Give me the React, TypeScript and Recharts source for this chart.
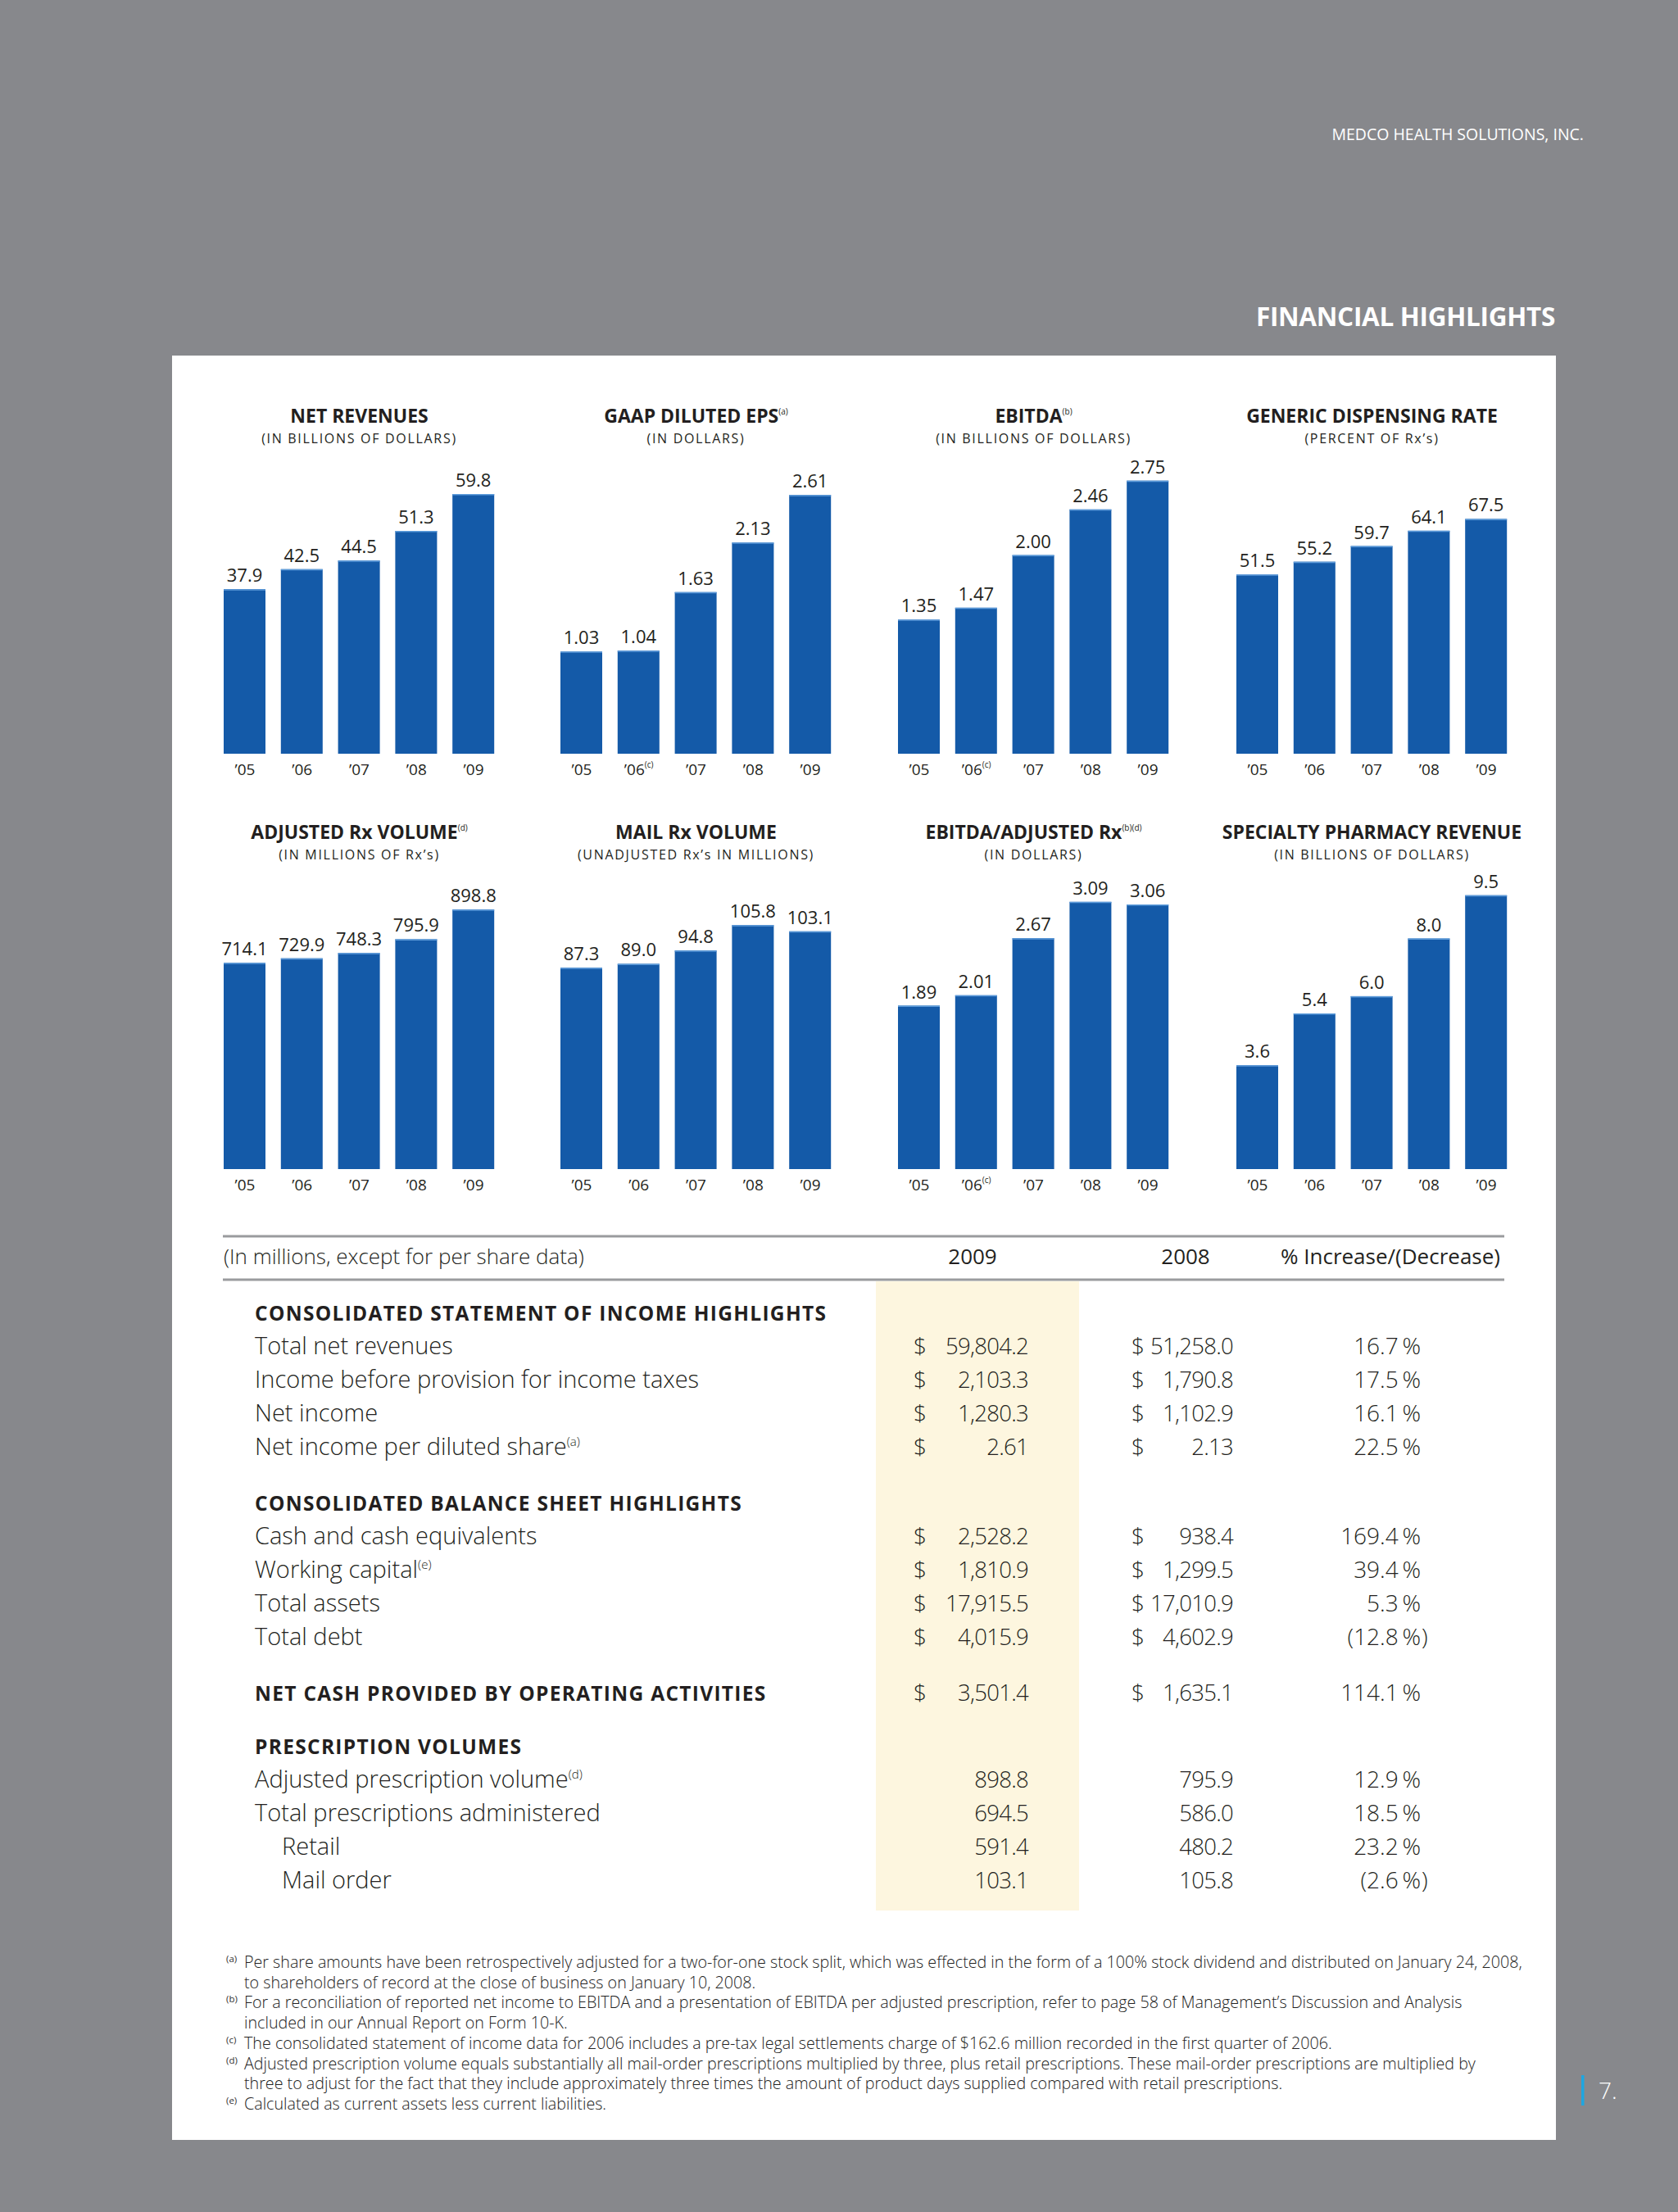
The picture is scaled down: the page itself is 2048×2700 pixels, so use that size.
import React from "react";
import { BarChart, Bar, XAxis, YAxis, LabelList } from "recharts";

// ---- chart data ----
const years = ["’05", "’06", "’07", "’08", "’09"];

const netRevenues = [37.9, 42.5, 44.5, 51.3, 59.8];
const dilutedEps = [1.03, 1.04, 1.63, 2.13, 2.61];
const ebitda = [1.35, 1.47, 2.0, 2.46, 2.75];
const genericRate = [51.5, 55.2, 59.7, 64.1, 67.5];
const adjustedRx = [714.1, 729.9, 748.3, 795.9, 898.8];
const mailRx = [87.3, 89.0, 94.8, 105.8, 103.1];
const ebitdaPerRx = [1.89, 2.01, 2.67, 3.09, 3.06];
const specialtyRevenue = [3.6, 5.4, 6.0, 8.0, 9.5];

// ---- table data ----
const incomeRows = [
  ["Total net revenues", "59,804.2", "51,258.0", 16.7],
  ["Income before provision for income taxes", "2,103.3", "1,790.8", 17.5],
  ["Net income", "1,280.3", "1,102.9", 16.1],
  ["Net income per diluted share", "2.61", "2.13", 22.5],
];
const balanceRows = [
  ["Cash and cash equivalents", "2,528.2", "938.4", 169.4],
  ["Working capital", "1,810.9", "1,299.5", 39.4],
  ["Total assets", "17,915.5", "17,010.9", 5.3],
  ["Total debt", "4,015.9", "4,602.9", -12.8],
];
const cashRow = ["NET CASH PROVIDED BY OPERATING ACTIVITIES", "3,501.4", "1,635.1", 114.1];
const volumeRows = [
  ["Adjusted prescription volume", "898.8", "795.9", 12.9],
  ["Total prescriptions administered", "694.5", "586.0", 18.5],
  ["Retail", "591.4", "480.2", 23.2],
  ["Mail order", "103.1", "105.8", -2.6],
];
const rowNotes: Record<string, string> = {
  "Net income per diluted share": "(a)",
  "Working capital": "(e)",
  "Adjusted prescription volume": "(d)",
};
const indentedRows = ["Retail", "Mail order"];

const footnotes = [
  ["(a)", "Per share amounts have been retrospectively adjusted for a two-for-one stock split, which was effected in the form of a 100% stock dividend and distributed on January 24, 2008,"],
  ["", "to shareholders of record at the close of business on January 10, 2008."],
  ["(b)", "For a reconciliation of reported net income to EBITDA and a presentation of EBITDA per adjusted prescription, refer to page 58 of Management’s Discussion and Analysis"],
  ["", "included in our Annual Report on Form 10-K."],
  ["(c)", "The consolidated statement of income data for 2006 includes a pre-tax legal settlements charge of $162.6 million recorded in the first quarter of 2006."],
  ["(d)", "Adjusted prescription volume equals substantially all mail-order prescriptions multiplied by three, plus retail prescriptions. These mail-order prescriptions are multiplied by"],
  ["", "three to adjust for the fact that they include approximately three times the amount of product days supplied compared with retail prescriptions."],
  ["(e)", "Calculated as current assets less current liabilities."],
];

const FONT = "'Open Sans', 'Noto Sans', sans-serif";
const INK = "#231f20";
const BLUE = "#145aa8";
const PAGE = "#87888c";

const CHART_W = 349;
const PLOT_H = 380;
const AXIS_H = 40;
const chartLefts = [264, 675, 1087, 1500];

const charts = [
  { title: "NET REVENUES", note: "", sub: "(IN BILLIONS OF DOLLARS)", values: netRevenues, decimals: 1, yMax: 71.7, note06: false },
  { title: "GAAP DILUTED EPS", note: "(a)", sub: "(IN DOLLARS)", values: dilutedEps, decimals: 2, yMax: 3.14, note06: true },
  { title: "EBITDA", note: "(b)", sub: "(IN BILLIONS OF DOLLARS)", values: ebitda, decimals: 2, yMax: 3.135, note06: true },
  { title: "GENERIC DISPENSING RATE", note: "", sub: "(PERCENT OF Rx’s)", values: genericRate, decimals: 1, yMax: 89.5, note06: false },
  { title: "ADJUSTED Rx VOLUME", note: "(d)", sub: "(IN MILLIONS OF Rx’s)", values: adjustedRx, decimals: 1, yMax: 1078, note06: false },
  { title: "MAIL Rx VOLUME", note: "", sub: "(UNADJUSTED Rx’s IN MILLIONS)", values: mailRx, decimals: 1, yMax: 135, note06: false },
  { title: "EBITDA/ADJUSTED Rx", note: "(b)(d)", sub: "(IN DOLLARS)", values: ebitdaPerRx, decimals: 2, yMax: 3.6, note06: true },
  { title: "SPECIALTY PHARMACY REVENUE", note: "", sub: "(IN BILLIONS OF DOLLARS)", values: specialtyRevenue, decimals: 1, yMax: 10.8, note06: false },
];
const rowBaselines = [920, 1427];

const BarShape = (p: any) => {
  const { x, y, width, height } = p;
  if (!height) return null;
  return (
    <g>
      <rect x={x} y={y} width={width} height={height} fill={BLUE} />
      <line x1={x} x2={x + width} y1={y + 0.75} y2={y + 0.75} stroke="#5f9ddb" strokeWidth={1.5} />
    </g>
  );
};

function MiniBarChart({ cfg, left, baseline }: any) {
  const data = years.map((year, i) => ({ year, value: cfg.values[i] }));
  return (
    <div style={{ position: "absolute", left, top: baseline - PLOT_H, width: CHART_W, height: PLOT_H + AXIS_H }}>
      <BarChart width={CHART_W} height={PLOT_H + AXIS_H} data={data} margin={{ top: 0, right: 0, bottom: 0, left: 0 }}>
        <XAxis
          dataKey="year"
          axisLine={false}
          tickLine={false}
          tickSize={0}
          tickMargin={0}
          height={AXIS_H}
          interval={0}
          tick={(t: any) => (
            <text x={t.x} y={t.y + 26} textAnchor="middle" fontSize={19} fill={INK} fontFamily={FONT}>
              {t.payload.value}
              {cfg.note06 && t.payload.value === "’06" ? (
                <tspan fontSize={10} dy={-9}>(c)</tspan>
              ) : null}
            </text>
          )}
        />
        <YAxis hide type="number" domain={[0, cfg.yMax]} allowDataOverflow />
        <Bar dataKey="value" barSize={51} shape={BarShape} isAnimationActive={false}>
          <LabelList
            dataKey="value"
            content={(l: any) => (
              <text x={l.x + l.width / 2} y={l.y - 9} textAnchor="middle" fontSize={22} fill={INK} fontFamily={FONT}>
                {Number(l.value).toFixed(cfg.decimals)}
              </text>
            )}
          />
        </Bar>
      </BarChart>
    </div>
  );
}

const C09_DOLLAR = 1115;
const C09_RIGHT = 1255;
const C08_DOLLAR = 1381;
const C08_RIGHT = 1505;
const PCT_RIGHT = 1734;

function ValueCells({ y, row, dollar }: any) {
  const [, v09, v08, pct] = row;
  const neg = pct < 0;
  const txt = `${neg ? "(" : ""}${Math.abs(pct).toFixed(1)}\u2009%`;
  const st = { fontSize: 28, fontWeight: 300, fill: INK, fontFamily: FONT } as any;
  const num = { ...st, fontSize: 27.5, letterSpacing: -0.7 };
  return (
    <g>
      {dollar && <text x={C09_DOLLAR} y={y} {...st}>$</text>}
      <text x={C09_RIGHT} y={y} textAnchor="end" {...num}>{v09}</text>
      {dollar && <text x={C08_DOLLAR} y={y} {...st}>$</text>}
      <text x={C08_RIGHT} y={y} textAnchor="end" {...num}>{v08}</text>
      <text x={PCT_RIGHT} y={y} textAnchor="end" {...st}>{txt}</text>
      {neg && <text x={PCT_RIGHT + 1} y={y} {...st}>)</text>}
    </g>
  );
}

function RowLabel({ y, label }: any) {
  const note = rowNotes[label];
  const x = indentedRows.includes(label) ? 344 : 311;
  return (
    <text x={x} y={y} fontSize={29} fontWeight={300} fill={INK} fontFamily={FONT}>
      {label}
      {note ? <tspan fontSize={15} dy={-11}>{note}</tspan> : null}
    </text>
  );
}

function Heading({ y, text }: any) {
  return (
    <text x={311} y={y} fontSize={24.5} fontWeight={700} letterSpacing={1.3} fill={INK} fontFamily={FONT}>
      {text}
    </text>
  );
}

function PageArt() {
  const sections: any[] = [];
  let y = 1612;
  sections.push(<Heading key="h1" y={y} text="CONSOLIDATED STATEMENT OF INCOME HIGHLIGHTS" />);
  incomeRows.forEach((r, i) => {
    y += 41;
    sections.push(<RowLabel key={"ir" + i} y={y} label={r[0]} />, <ValueCells key={"iv" + i} y={y} row={r} dollar />);
  });
  y += 68;
  sections.push(<Heading key="h2" y={y} text="CONSOLIDATED BALANCE SHEET HIGHLIGHTS" />);
  balanceRows.forEach((r, i) => {
    y += 41;
    sections.push(<RowLabel key={"br" + i} y={y} label={r[0]} />, <ValueCells key={"bv" + i} y={y} row={r} dollar />);
  });
  y += 68;
  sections.push(<Heading key="h3" y={y} text={cashRow[0]} />, <ValueCells key="cv" y={y} row={cashRow} dollar />);
  y += 65;
  sections.push(<Heading key="h4" y={y} text="PRESCRIPTION VOLUMES" />);
  volumeRows.forEach((r, i) => {
    y += 41;
    sections.push(<RowLabel key={"vr" + i} y={y} label={r[0]} />, <ValueCells key={"vv" + i} y={y} row={r} dollar={false} />);
  });

  return (
    <svg width={2048} height={2700} style={{ position: "absolute", left: 0, top: 0 }}>
      <rect x={0} y={0} width={2048} height={2700} fill={PAGE} />
      <text x={1933} y={171} textAnchor="end" fontSize={19.5} fill="#fff" fontFamily={FONT}>
        MEDCO HEALTH SOLUTIONS, INC.
      </text>
      <text x={1898} y={398} textAnchor="end" fontSize={31.5} fontWeight={700} letterSpacing={-0.3} fill="#fff" fontFamily={FONT}>
        FINANCIAL HIGHLIGHTS
      </text>
      <rect x={210} y={434} width={1689} height={2178} fill="#fff" />

      {/* chart titles */}
      {charts.map((c, i) => {
        const cx = chartLefts[i % 4] + CHART_W / 2;
        const row = Math.floor(i / 4);
        const ty = row === 0 ? 516 : 1024;
        return (
          <g key={"t" + i}>
            <text x={cx} y={ty} textAnchor="middle" fontSize={23} fontWeight={700} fill={INK} fontFamily={FONT}>
              {c.title}
              {c.note ? <tspan fontSize={10} fontWeight={400} dy={-10}>{c.note}</tspan> : null}
            </text>
            <text x={cx} y={ty + 25} textAnchor="middle" fontSize={16} letterSpacing={1.7} fill={INK} fontFamily={FONT}>
              {c.sub}
            </text>
          </g>
        );
      })}

      {/* table */}
      <rect x={272} y={1507.5} width={1564} height={3} fill="#9a9b9e" />
      <rect x={272} y={1560.5} width={1564} height={3} fill="#9a9b9e" />
      <rect x={1069} y={1564} width={248} height={768} fill="#fdf6df" />
      <text x={273} y={1543} fontSize={26} fontWeight={300} fill={INK} fontFamily={FONT}>
        (In millions, except for per share data)
      </text>
      <text x={1187} y={1543} textAnchor="middle" fontSize={26} fontWeight={400} fill={INK} fontFamily={FONT}>2009</text>
      <text x={1447} y={1543} textAnchor="middle" fontSize={26} fontWeight={400} fill={INK} fontFamily={FONT}>2008</text>
      <text x={1831} y={1543} textAnchor="end" fontSize={26} fontWeight={400} fill={INK} fontFamily={FONT}>% Increase/(Decrease)</text>
      {sections}

      {/* footnotes */}
      {footnotes.map(([mark, line], i) => (
        <g key={"f" + i}>
          {mark ? (
            <text x={276} y={2395 + i * 24.7} fontSize={11.5} fill="#333" fontFamily={FONT}>{mark}</text>
          ) : null}
          <text x={298} y={2402 + i * 24.7} fontSize={19.7} fontWeight={300} fill="#222" fontFamily={FONT}>{line}</text>
        </g>
      ))}

      {/* folio */}
      <rect x={1930} y={2533} width={3.5} height={37} fill="#1ea6e0" />
      <text x={1951} y={2562} fontSize={28} fontWeight={300} fill="#fff" fontFamily={FONT}>7.</text>
    </svg>
  );
}

export default function App() {
  return (
    <div style={{ position: "absolute", left: 0, top: 0, width: 2048, height: 2700, overflow: "hidden", background: PAGE }}>
      <PageArt />
      {charts.map((c, i) => (
        <MiniBarChart key={i} cfg={c} left={chartLefts[i % 4]} baseline={rowBaselines[Math.floor(i / 4)]} />
      ))}
    </div>
  );
}
